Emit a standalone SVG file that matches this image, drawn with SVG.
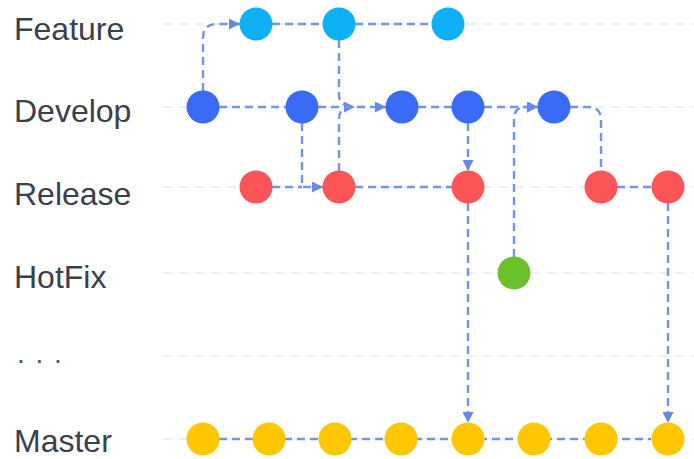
<svg xmlns="http://www.w3.org/2000/svg" width="694" height="459" viewBox="0 0 694 459">
<style>
.lbl{font-family:"Liberation Sans",Arial,sans-serif;font-size:32px;fill:#3a404c}
.dots{font-family:"Liberation Sans",Arial,sans-serif;font-size:28px;fill:#50555f}
.grid{stroke:#e8ebf0;stroke-width:1.5;stroke-dasharray:9 7;fill:none}
.c{fill:none;stroke:#7393f0;stroke-width:2.4;stroke-dasharray:8 5}
.a{marker-end:url(#arr)}
.fe{fill:#0fb1f6}.de{fill:#3a6bf6}.re{fill:#fb5557}.ho{fill:#6cc12a}.ma{fill:#ffc700}
</style>
<defs>
<marker id="arr" markerUnits="userSpaceOnUse" markerWidth="12" markerHeight="11" refX="11" refY="5.5" orient="auto">
<path d="M0,0 L11,5.5 L0,11 Z" fill="#6a88ea"/>
</marker>
</defs>
<rect width="694" height="459" fill="#ffffff"/>
<g id="grid">
<line class="grid" x1="163" y1="24" x2="694" y2="24"/>
<line class="grid" x1="163" y1="107" x2="694" y2="107"/>
<line class="grid" x1="163" y1="187" x2="694" y2="187"/>
<line class="grid" x1="163" y1="273" x2="694" y2="273"/>
<line class="grid" x1="163" y1="356" x2="694" y2="356"/>
<line class="grid" x1="163" y1="439" x2="694" y2="439"/>
</g>
<g id="labels">
<text class="lbl" x="14" y="40">Feature</text>
<text class="lbl" x="14" y="122">Develop</text>
<text class="lbl" x="14" y="205">Release</text>
<text class="lbl" x="14" y="288">HotFix</text>
<text class="dots" x="17" y="363" letter-spacing="1.5">. . .</text>
<text class="lbl" x="14" y="452">Master</text>
</g>
<g id="connectors">
<path class="c" d="M272,24 H323"/>
<path class="c" d="M355,24 H432"/>
<path class="c a" d="M203,91 V38 Q203,24 217,24 H240"/>
<path class="c" d="M219,107 H286"/>
<path class="c a" d="M318,107 H386"/>
<path class="c" d="M418,107 H452"/>
<path class="c a" d="M484,107 H538"/>
<path class="c a" d="M339,40 V95 Q339,107 355,107"/>
<path class="c" d="M339,171 V119 Q339,107 351,107"/>
<path class="c" d="M570,107 H588 Q601,107 601,120 V171"/>
<path class="c" d="M272,187 H302"/>
<path class="c a" d="M302,123 V187 H323"/>
<path class="c" d="M355,187 H452"/>
<path class="c" d="M617,187 H652"/>
<path class="c a" d="M468,123 V171"/>
<path class="c a" d="M514,257 V119 Q514,107 526,107 H538"/>
<path class="c a" d="M468,203 V423"/>
<path class="c a" d="M668,203 V423"/>
<path class="c" d="M219,439 H651"/>
</g>
<g id="feature-1"><circle class="fe" cx="256" cy="24" r="16.5"/></g>
<g id="feature-2"><circle class="fe" cx="339" cy="24" r="16.5"/></g>
<g id="feature-3"><circle class="fe" cx="448" cy="24" r="16.5"/></g>
<g id="develop-1"><circle class="de" cx="203" cy="107" r="16.5"/></g>
<g id="develop-2"><circle class="de" cx="302" cy="107" r="16.5"/></g>
<g id="develop-3"><circle class="de" cx="402" cy="107" r="16.5"/></g>
<g id="develop-4"><circle class="de" cx="468" cy="107" r="16.5"/></g>
<g id="develop-5"><circle class="de" cx="554" cy="107" r="16.5"/></g>
<g id="release-1"><circle class="re" cx="256" cy="187" r="16.5"/></g>
<g id="release-2"><circle class="re" cx="339" cy="187" r="16.5"/></g>
<g id="release-3"><circle class="re" cx="468" cy="187" r="16.5"/></g>
<g id="release-4"><circle class="re" cx="601" cy="187" r="16.5"/></g>
<g id="release-5"><circle class="re" cx="668" cy="187" r="16.5"/></g>
<g id="hotfix-1"><circle class="ho" cx="514" cy="273" r="16.5"/></g>
<g id="master-1"><circle class="ma" cx="203" cy="439" r="16.5"/></g>
<g id="master-2"><circle class="ma" cx="269" cy="439" r="16.5"/></g>
<g id="master-3"><circle class="ma" cx="335" cy="439" r="16.5"/></g>
<g id="master-4"><circle class="ma" cx="401" cy="439" r="16.5"/></g>
<g id="master-5"><circle class="ma" cx="468" cy="439" r="16.5"/></g>
<g id="master-6"><circle class="ma" cx="534" cy="439" r="16.5"/></g>
<g id="master-7"><circle class="ma" cx="601" cy="439" r="16.5"/></g>
<g id="master-8"><circle class="ma" cx="668" cy="439" r="16.5"/></g>
</svg>
